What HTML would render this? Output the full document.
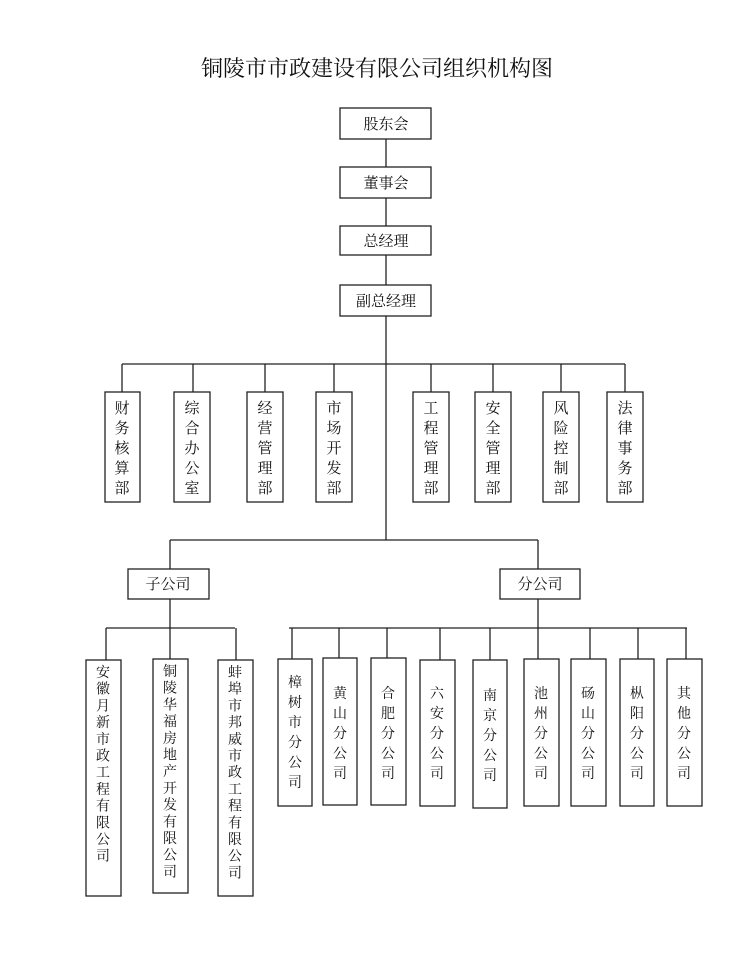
<!DOCTYPE html>
<html><head><meta charset="utf-8"><style>
html,body{margin:0;padding:0;background:#fff;}
svg text{font-family:"Liberation Serif","Noto Serif CJK SC","Noto Sans CJK SC",serif;fill:#111;}
</style></head><body>
<svg width="750" height="954" viewBox="0 0 750 954" xmlns="http://www.w3.org/2000/svg">
<text x="377" y="76" font-size="22" text-anchor="middle">铜陵市市政建设有限公司组织机构图</text>
<g fill="none" stroke="#222" stroke-width="1.3">
<rect x="340" y="108" width="91" height="31"/>
<rect x="340" y="167" width="91" height="31"/>
<rect x="340" y="226" width="91" height="29"/>
<rect x="340" y="285" width="91" height="31"/>
<line x1="386" y1="139" x2="386" y2="167"/>
<line x1="386" y1="198" x2="386" y2="226"/>
<line x1="386" y1="255" x2="386" y2="285"/>
<line x1="386" y1="316" x2="386" y2="540"/>
<line x1="122" y1="364" x2="625" y2="364"/>
<line x1="122" y1="364" x2="122" y2="392"/>
<line x1="193" y1="364" x2="193" y2="392"/>
<line x1="265" y1="364" x2="265" y2="392"/>
<line x1="334" y1="364" x2="334" y2="392"/>
<line x1="431" y1="364" x2="431" y2="392"/>
<line x1="493" y1="364" x2="493" y2="392"/>
<line x1="561" y1="364" x2="561" y2="392"/>
<line x1="625" y1="364" x2="625" y2="392"/>
<rect x="105" y="392" width="35" height="110"/>
<rect x="174" y="392" width="36" height="110"/>
<rect x="247" y="392" width="36" height="110"/>
<rect x="316" y="392" width="36" height="110"/>
<rect x="413" y="392" width="36" height="110"/>
<rect x="475" y="392" width="36" height="110"/>
<rect x="543" y="392" width="36" height="110"/>
<rect x="607" y="392" width="36" height="110"/>
<line x1="170" y1="540" x2="538" y2="540"/>
<line x1="170" y1="540" x2="170" y2="569"/>
<line x1="538" y1="540" x2="538" y2="569"/>
<rect x="128" y="569" width="81" height="30"/>
<rect x="500" y="569" width="80" height="30"/>
<line x1="170" y1="599" x2="170" y2="659"/>
<line x1="106" y1="628" x2="235" y2="628"/>
<line x1="106" y1="628" x2="106" y2="660"/>
<line x1="236" y1="628" x2="236" y2="660"/>
<rect x="86" y="660" width="35" height="236"/>
<rect x="153" y="659" width="35" height="234"/>
<rect x="218" y="660" width="35" height="236"/>
<line x1="538" y1="599" x2="538" y2="659"/>
<line x1="289" y1="628" x2="687" y2="628"/>
<line x1="292" y1="628" x2="292" y2="659"/>
<line x1="339" y1="628" x2="339" y2="658"/>
<line x1="387" y1="628" x2="387" y2="658"/>
<line x1="440" y1="628" x2="440" y2="660"/>
<line x1="490" y1="628" x2="490" y2="660"/>
<line x1="590" y1="628" x2="590" y2="659"/>
<line x1="638" y1="628" x2="638" y2="659"/>
<line x1="686" y1="628" x2="686" y2="659"/>
<rect x="278" y="659" width="34" height="147"/>
<rect x="323" y="658" width="34" height="147"/>
<rect x="371" y="658" width="35" height="147"/>
<rect x="420" y="660" width="35" height="146"/>
<rect x="473" y="660" width="34" height="148"/>
<rect x="524" y="659" width="35" height="147"/>
<rect x="571" y="659" width="35" height="147"/>
<rect x="620" y="659" width="34" height="147"/>
<rect x="667" y="659" width="35" height="147"/>
</g>
<g font-size="15" text-anchor="middle">
<text x="386" y="129">股东会</text>
<text x="386" y="188">董事会</text>
<text x="386" y="246">总经理</text>
<text x="386" y="306">副总经理</text>
<text x="168" y="589">子公司</text>
<text x="540" y="589">分公司</text>
</g>
<g font-size="15" text-anchor="middle">
<text x="122" y="413">财</text><text x="122" y="433">务</text><text x="122" y="453">核</text><text x="122" y="473">算</text><text x="122" y="493">部</text>
<text x="192" y="413">综</text><text x="192" y="433">合</text><text x="192" y="453">办</text><text x="192" y="473">公</text><text x="192" y="493">室</text>
<text x="265" y="413">经</text><text x="265" y="433">营</text><text x="265" y="453">管</text><text x="265" y="473">理</text><text x="265" y="493">部</text>
<text x="334" y="413">市</text><text x="334" y="433">场</text><text x="334" y="453">开</text><text x="334" y="473">发</text><text x="334" y="493">部</text>
<text x="431" y="413">工</text><text x="431" y="433">程</text><text x="431" y="453">管</text><text x="431" y="473">理</text><text x="431" y="493">部</text>
<text x="493" y="413">安</text><text x="493" y="433">全</text><text x="493" y="453">管</text><text x="493" y="473">理</text><text x="493" y="493">部</text>
<text x="561" y="413">风</text><text x="561" y="433">险</text><text x="561" y="453">控</text><text x="561" y="473">制</text><text x="561" y="493">部</text>
<text x="625" y="413">法</text><text x="625" y="433">律</text><text x="625" y="453">事</text><text x="625" y="473">务</text><text x="625" y="493">部</text>
</g>
<g font-size="14" text-anchor="middle">
<text x="103" y="677"><tspan x="103">安</tspan><tspan x="103" dy="16.7">徽</tspan><tspan x="103" dy="16.7">月</tspan><tspan x="103" dy="16.7">新</tspan><tspan x="103" dy="16.7">市</tspan><tspan x="103" dy="16.7">政</tspan><tspan x="103" dy="16.7">工</tspan><tspan x="103" dy="16.7">程</tspan><tspan x="103" dy="16.7">有</tspan><tspan x="103" dy="16.7">限</tspan><tspan x="103" dy="16.7">公</tspan><tspan x="103" dy="16.7">司</tspan></text>
<text x="170" y="676"><tspan x="170">铜</tspan><tspan x="170" dy="16.7">陵</tspan><tspan x="170" dy="16.7">华</tspan><tspan x="170" dy="16.7">福</tspan><tspan x="170" dy="16.7">房</tspan><tspan x="170" dy="16.7">地</tspan><tspan x="170" dy="16.7">产</tspan><tspan x="170" dy="16.7">开</tspan><tspan x="170" dy="16.7">发</tspan><tspan x="170" dy="16.7">有</tspan><tspan x="170" dy="16.7">限</tspan><tspan x="170" dy="16.7">公</tspan><tspan x="170" dy="16.7">司</tspan></text>
<text x="235" y="677"><tspan x="235">蚌</tspan><tspan x="235" dy="16.7">埠</tspan><tspan x="235" dy="16.7">市</tspan><tspan x="235" dy="16.7">邦</tspan><tspan x="235" dy="16.7">威</tspan><tspan x="235" dy="16.7">市</tspan><tspan x="235" dy="16.7">政</tspan><tspan x="235" dy="16.7">工</tspan><tspan x="235" dy="16.7">程</tspan><tspan x="235" dy="16.7">有</tspan><tspan x="235" dy="16.7">限</tspan><tspan x="235" dy="16.7">公</tspan><tspan x="235" dy="16.7">司</tspan></text>
<text x="295" y="687"><tspan x="295">樟</tspan><tspan x="295" dy="20">树</tspan><tspan x="295" dy="20">市</tspan><tspan x="295" dy="20">分</tspan><tspan x="295" dy="20">公</tspan><tspan x="295" dy="20">司</tspan></text>
<text x="340" y="698"><tspan x="340">黄</tspan><tspan x="340" dy="20">山</tspan><tspan x="340" dy="20">分</tspan><tspan x="340" dy="20">公</tspan><tspan x="340" dy="20">司</tspan></text>
<text x="388" y="698"><tspan x="388">合</tspan><tspan x="388" dy="20">肥</tspan><tspan x="388" dy="20">分</tspan><tspan x="388" dy="20">公</tspan><tspan x="388" dy="20">司</tspan></text>
<text x="437" y="698"><tspan x="437">六</tspan><tspan x="437" dy="20">安</tspan><tspan x="437" dy="20">分</tspan><tspan x="437" dy="20">公</tspan><tspan x="437" dy="20">司</tspan></text>
<text x="490" y="700"><tspan x="490">南</tspan><tspan x="490" dy="20">京</tspan><tspan x="490" dy="20">分</tspan><tspan x="490" dy="20">公</tspan><tspan x="490" dy="20">司</tspan></text>
<text x="541" y="698"><tspan x="541">池</tspan><tspan x="541" dy="20">州</tspan><tspan x="541" dy="20">分</tspan><tspan x="541" dy="20">公</tspan><tspan x="541" dy="20">司</tspan></text>
<text x="588" y="698"><tspan x="588">砀</tspan><tspan x="588" dy="20">山</tspan><tspan x="588" dy="20">分</tspan><tspan x="588" dy="20">公</tspan><tspan x="588" dy="20">司</tspan></text>
<text x="637" y="698"><tspan x="637">枞</tspan><tspan x="637" dy="20">阳</tspan><tspan x="637" dy="20">分</tspan><tspan x="637" dy="20">公</tspan><tspan x="637" dy="20">司</tspan></text>
<text x="684" y="698"><tspan x="684">其</tspan><tspan x="684" dy="20">他</tspan><tspan x="684" dy="20">分</tspan><tspan x="684" dy="20">公</tspan><tspan x="684" dy="20">司</tspan></text>
</g>
</svg>
</body></html>
